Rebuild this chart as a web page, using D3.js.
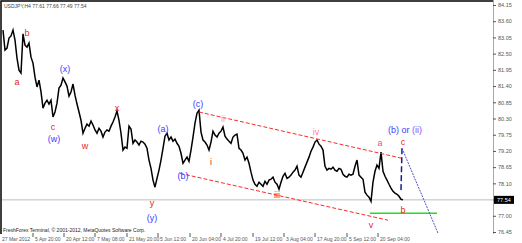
<!DOCTYPE html>
<html>
<head>
<meta charset="utf-8">
<script src="https://cdn.jsdelivr.net/npm/d3@7"></script>
<style>
  body { margin: 0; background: #fff; }
  svg { display: block; }
  text { font-family: "Liberation Sans", Arial, sans-serif; }
</style>
</head>
<body>
<svg id="chart"></svg>
<script>
const W = 522, H = 243;

// USDJPY H4 close, one value per 2 bars-ish
const closes = [
  83.30, 82.62, 82.69, 83.03, 83.10, 83.30, 82.96, 82.35, 81.94, 81.84,
  83.17, 82.79, 82.72, 82.86, 82.38, 82.18, 81.70, 81.37, 81.60, 81.20,
  80.65, 80.82, 80.92, 80.79, 80.92, 80.35, 80.52, 80.82, 81.33, 81.43,
  81.67, 81.54, 81.40, 81.06, 81.20, 81.47, 81.09, 80.79, 80.52, 80.24,
  79.80, 79.97, 80.11, 80.04, 80.21, 80.08, 79.91, 79.80, 79.97, 79.87,
  79.67, 79.84, 79.91, 79.87, 80.04, 80.18, 80.35, 80.55, 80.24, 79.80,
  79.23, 79.33, 79.29, 80.04, 79.94, 79.46, 79.57, 79.50, 79.40, 79.53,
  79.50, 79.43, 79.29, 78.89, 78.61, 78.21, 77.97, 78.27, 78.55, 78.89,
  79.29, 79.70, 79.80, 79.57, 79.67, 79.53, 79.60, 79.46, 79.36, 79.12,
  78.78, 78.89, 78.99, 78.85, 79.23, 79.67, 80.14, 80.48, 80.58, 79.84,
  79.57, 79.50, 79.40, 79.23, 79.50, 79.87, 79.74, 79.67, 79.80, 79.87,
  80.01, 79.70, 79.60, 79.53, 79.46, 79.67, 79.74, 79.77, 79.29, 79.23,
  79.12, 78.89, 78.99, 78.78, 78.48, 78.21, 78.07, 78.00, 78.14, 78.07,
  78.00, 78.17, 78.07, 78.21, 78.24, 78.31, 78.14, 78.07, 77.90, 78.14,
  78.34, 78.44, 78.27, 78.31, 78.38, 78.48, 78.55, 78.68, 78.38, 78.31,
  78.48, 78.65, 78.82, 78.99, 79.19, 79.33, 79.50, 79.57, 79.43, 79.36,
  79.23, 78.68, 78.55, 78.61, 78.58, 78.65, 78.55, 78.51, 78.61, 78.58,
  78.41, 78.34, 78.31, 78.41, 78.38, 78.41, 78.68, 78.89, 78.38, 78.31,
  78.24, 77.80, 77.70, 77.63, 77.49, 78.14, 78.51, 78.72, 78.61, 79.16,
  78.51, 78.34, 78.21, 78.07, 77.94, 77.83, 77.77, 77.73, 77.66, 77.56,
  77.54
];

const priceTicks = [84.15, 83.60, 83.05, 82.50, 81.95, 81.40, 80.85, 80.30,
  79.75, 79.20, 78.65, 78.10, 77.55, 77.00, 76.45];
const lastPrice = 77.54;

// time labels and the bar where each one sits
const timeLabels = ["27 Mar 2012", "5 Apr 20:00", "20 Apr 12:00", "7 May 08:00",
  "21 May 20:00", "5 Jun 12:00", "20 Jun 04:00", "4 Jul 20:00", "19 Jul 12:00",
  "3 Aug 04:00", "17 Aug 20:00", "5 Sep 12:00", "20 Sep 04:00"];
const timeBars = [-0.5, 15, 30.5, 46, 62, 77.5, 93.5, 109, 125, 140.5, 156, 172, 187.5];

// wave labels: text, bar, price, colour
const waveLabels = [
  ["a", 7, 81.54, "#e8251f"], ["b", 12, 83.20, "#e8251f"],
  ["(x)", 31, 81.98, "#3d3dff"], ["c", 25, 80.01, "#e8251f"],
  ["(w)", 25.5, 79.60, "#3d3dff"], ["w", 41, 79.36, "#e8251f"],
  ["x", 57, 80.65, "#e8251f"], ["y", 74.5, 77.43, "#e8251f"],
  ["(y)", 74.5, 76.92, "#3d3dff"], ["(a)", 80, 79.94, "#3d3dff"],
  ["(c)", 97.5, 80.79, "#3d3dff"], ["(b)", 90, 78.34, "#3d3dff"],
  ["i", 104, 78.82, "#e8251f"], ["ii", 110, 80.28, "#ff94a8"],
  ["iii", 137, 77.70, "#e8251f"], ["iv", 156.5, 79.84, "#ff7f98"],
  ["v", 184, 76.68, "#e8251f"], ["a", 188.5, 79.46, "#ff4a6a"],
  ["c", 200, 79.50, "#e8251f"], ["b", 200, 77.19, "#e8251f"]
];

// channel lines and projections [bar, price]
const upperChannel = [[98, 80.52], [199.5, 78.95]];
const lowerChannel = [[88.5, 78.44], [192.5, 76.85]];
const greenLevel = [[183.5, 77.09], [217, 77.09]];
const waveCUp = [[199, 77.87], [199.5, 79.29]];
const projection = [[199.5, 79.29], [217.5, 76.41]];

const svg = d3.select("#chart").attr("width", W).attr("height", H);
svg.append("rect").attr("width", W).attr("height", H).attr("fill", "#fff");

const x = d3.scaleLinear().domain([0, 200]).range([3, 403]);
const y = d3.scaleLinear().domain([76.45, 84.15]).range([232, 5]);
const plotRight = 493, plotBottom = 234;

// frame
svg.append("path").attr("d", `M1,${plotBottom}V1H${plotRight}`)
  .attr("fill", "none").attr("stroke", "#000").attr("stroke-width", 1.5);

// bid line
svg.append("line").attr("x1", 2).attr("x2", plotRight)
  .attr("y1", y(lastPrice)).attr("y2", y(lastPrice))
  .attr("stroke", "#bdbdbd").attr("stroke-width", 1);

// price line
const line = d3.line().x((d, i) => x(i)).y(d => y(d));
svg.append("path").datum(closes).attr("d", line)
  .attr("fill", "none").attr("stroke", "#000").attr("stroke-width", 1.5)
  .attr("stroke-linejoin", "miter");

const seg = d3.line().x(d => x(d[0])).y(d => y(d[1]));
// red channel
svg.append("path").attr("d", seg(upperChannel)).attr("stroke", "#ff2a2a")
  .attr("stroke-width", 1).attr("stroke-dasharray", "4,2").attr("fill", "none");
svg.append("path").attr("d", seg(lowerChannel)).attr("stroke", "#ff2a2a")
  .attr("stroke-width", 1).attr("stroke-dasharray", "4,2").attr("fill", "none");
// green level
svg.append("path").attr("d", seg(greenLevel)).attr("stroke", "#22dd22")
  .attr("stroke-width", 1.5).attr("fill", "none");
// blue wave c and projection
svg.append("path").attr("d", seg(waveCUp)).attr("stroke", "#1a1a9a")
  .attr("stroke-width", 1.5).attr("stroke-dasharray", "6,3").attr("fill", "none");
svg.append("path").attr("d", seg(projection)).attr("stroke", "#5252c8")
  .attr("stroke-width", 1).attr("stroke-dasharray", "2,1").attr("fill", "none");

// wave labels
svg.append("g").selectAll("text").data(waveLabels).join("text")
  .attr("x", d => x(d[1])).attr("y", d => y(d[2])).attr("dy", "0.35em")
  .attr("text-anchor", "middle").attr("font-size", 9).attr("fill", d => d[3])
  .text(d => d[0]);

const bOr = svg.append("text").attr("x", x(201)).attr("y", y(79.91)).attr("dy", "0.35em")
  .attr("text-anchor", "middle").attr("font-size", 9);
bOr.append("tspan").attr("fill", "#3d3dff").text("(b) or ");
bOr.append("tspan").attr("fill", "#8a4dff").text("(ii)");

// right price axis
const yAxis = svg.append("g").attr("transform", `translate(${plotRight},0)`)
  .call(d3.axisRight(y).tickValues(priceTicks).tickSize(3).tickPadding(2).tickFormat(d3.format(".2f")));
yAxis.select(".domain").attr("stroke", "#a8a8a8").attr("d", `M0.5,0V${plotBottom}`);
yAxis.selectAll(".tick line").attr("stroke", "#555");
yAxis.selectAll(".tick text").attr("font-size", 5.5).attr("fill", "#555")
  .attr("font-family", "Liberation Sans, Arial, sans-serif");

// current price box
svg.append("rect").attr("x", plotRight + 1).attr("y", y(lastPrice) - 4)
  .attr("width", 20).attr("height", 8).attr("fill", "#000");
svg.append("text").attr("x", plotRight + 4).attr("y", y(lastPrice)).attr("dy", "0.35em")
  .attr("font-size", 5.5).attr("fill", "#fff").text(d3.format(".2f")(lastPrice));

// time axis
const xg = svg.append("g");
xg.selectAll("line").data(timeBars.slice(1)).join("line")
  .attr("x1", d => x(d)).attr("x2", d => x(d))
  .attr("y1", plotBottom - 1).attr("y2", plotBottom + 3).attr("stroke", "#555");
xg.selectAll("text").data(timeLabels).join("text")
  .attr("x", (d, i) => i === 0 ? 2 : x(timeBars[i]) + 2).attr("y", 241)
  .attr("font-size", 5).attr("fill", "#555").text(d => d);

// header and footer text
svg.append("text").attr("x", 4).attr("y", 8).attr("font-size", 5).attr("fill", "#444")
  .text("USDJPY,H4  77.61 77.66 77.49 77.54");
svg.append("text").attr("x", 3).attr("y", 232).attr("font-size", 5).attr("fill", "#222")
  .text("FreshForex Terminal, © 2001-2012, MetaQuotes Software Corp.");
</script>
</body>
</html>
